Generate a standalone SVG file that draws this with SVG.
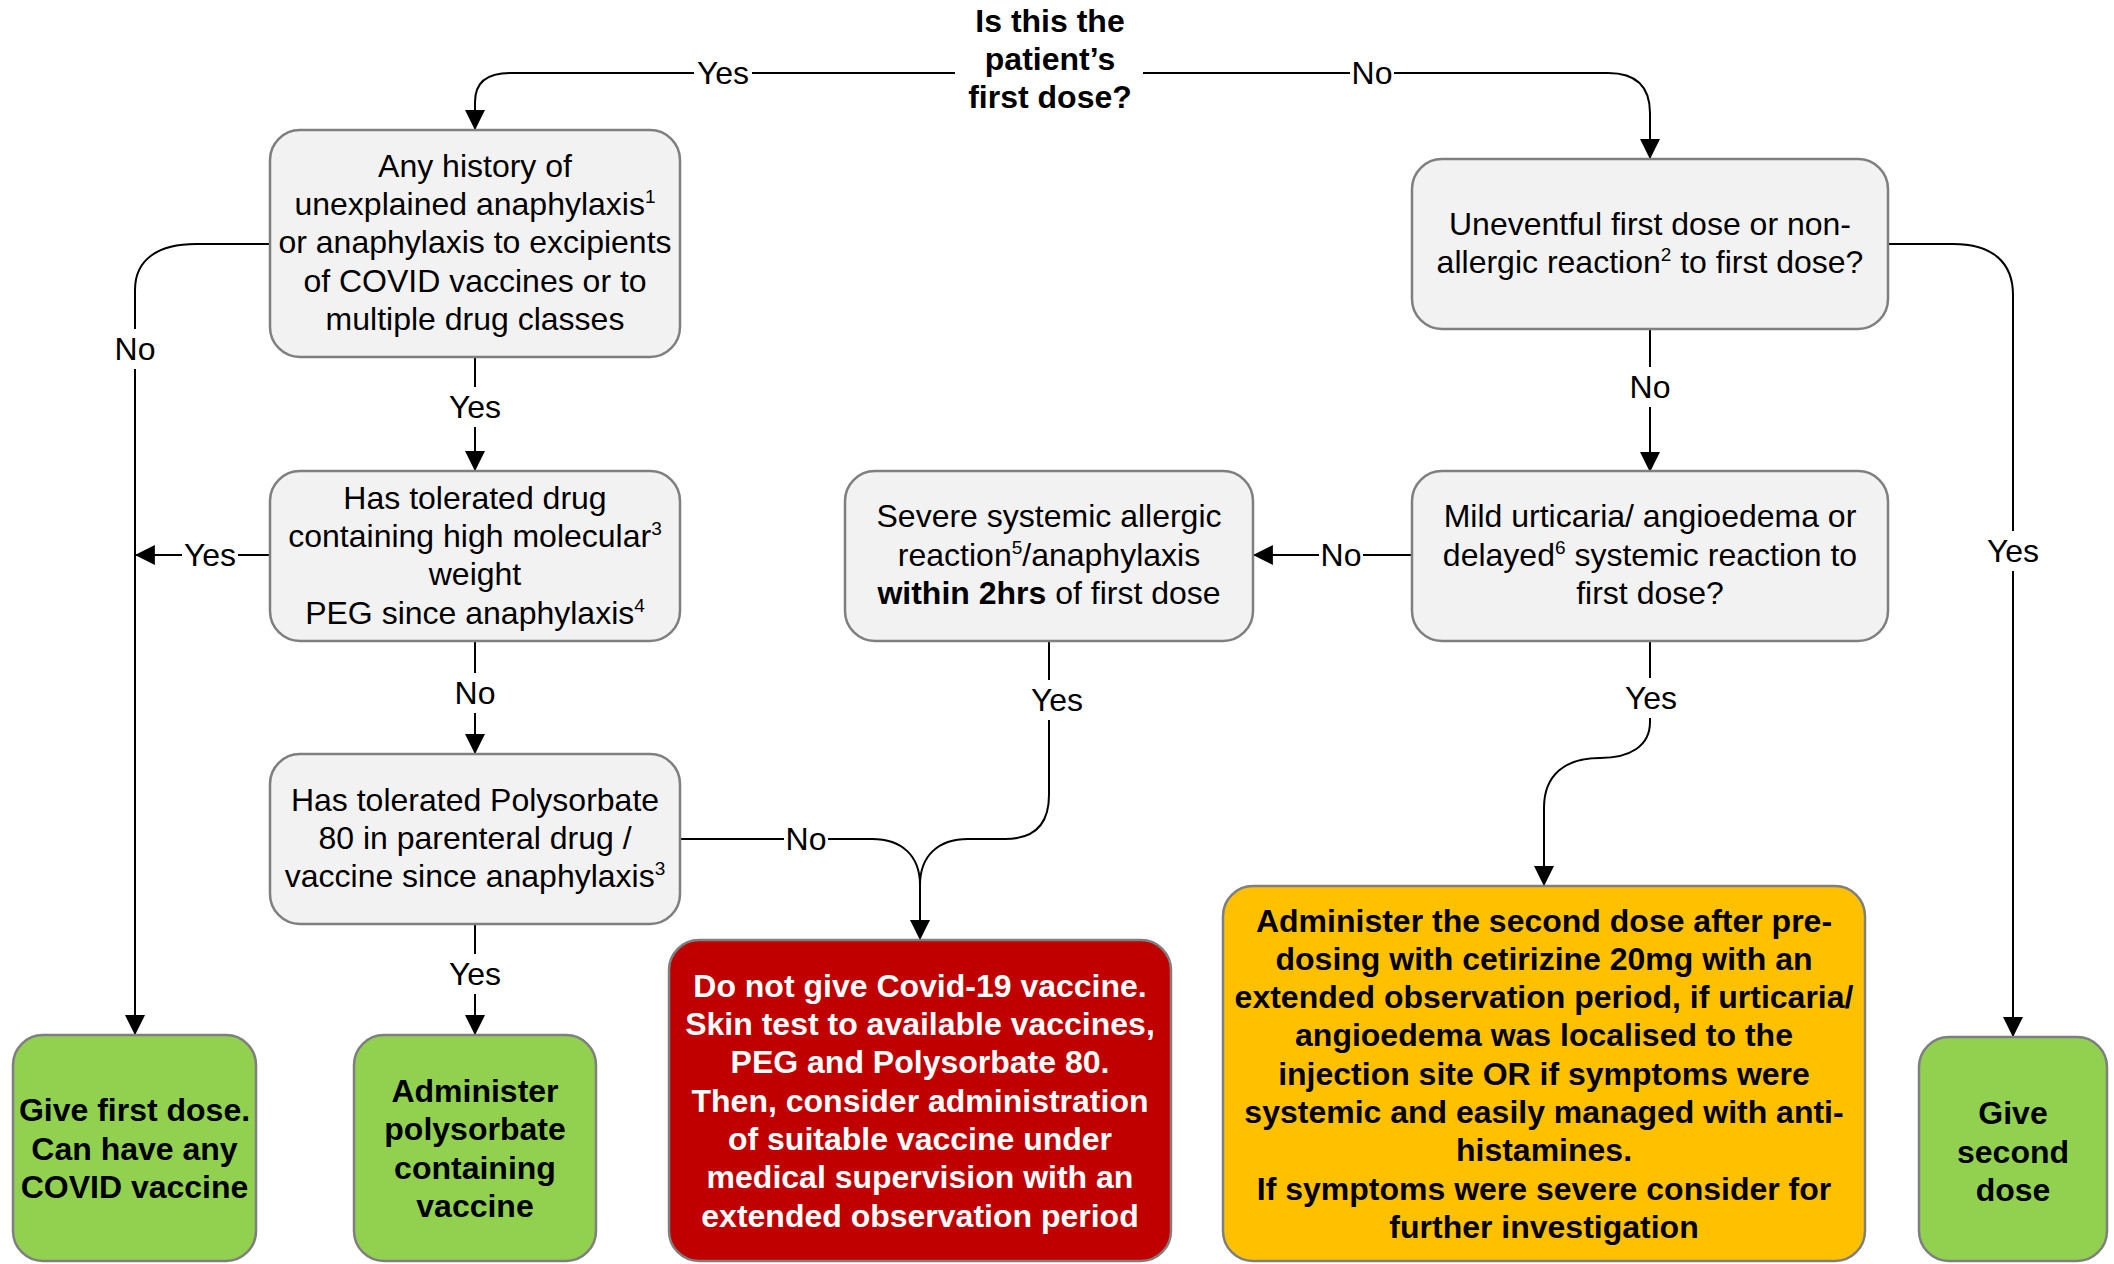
<svg xmlns="http://www.w3.org/2000/svg" width="2114" height="1264" viewBox="0 0 2114 1264">
<style>
text{font-family:"Liberation Sans",Arial,sans-serif;font-size:32px;fill:#000;text-anchor:middle}
.b{font-weight:bold}
.w{fill:#fff}
.sup{font-size:19px}
.q{fill:#f2f2f2;stroke:#7f7f7f;stroke-width:2.5}
.g{fill:#92d050;stroke:#7f7f7f;stroke-width:2.5}
.r{fill:#c00000;stroke:#7f7f7f;stroke-width:2.5}
.o{fill:#ffc000;stroke:#7f7f7f;stroke-width:2.5}
.ln{fill:none;stroke:#000;stroke-width:2}
.lb{fill:#fff;stroke:none}
</style>
<defs>
<marker id="arr" markerUnits="userSpaceOnUse" markerWidth="20" markerHeight="20" viewBox="0 0 18 18" refX="17" refY="9" orient="auto">
<path d="M0,0 L18,9 L0,18 z" fill="#000"/>
</marker>
</defs>
<rect width="2114" height="1264" fill="#fff"/>

<g id="connectors">
<path class="ln" d="M955,73 H510 C488,73 475,82 475,102 V129" marker-end="url(#arr)"/>
<path class="ln" d="M1143,73 H1608 C1634,73 1650,85 1650,113 V158" marker-end="url(#arr)"/>
<path class="ln" d="M270,244 H196 C160,244 135,258 135,290 V1034" marker-end="url(#arr)"/>
<path class="ln" d="M270,555 H136" marker-end="url(#arr)"/>
<path class="ln" d="M475,357 V470" marker-end="url(#arr)"/>
<path class="ln" d="M475,641 V753" marker-end="url(#arr)"/>
<path class="ln" d="M475,924 V1034" marker-end="url(#arr)"/>
<path class="ln" d="M679,839 H872 C902,839 920,856 920,885 V939" marker-end="url(#arr)"/>
<path class="ln" d="M1049,641 V795 C1049,826 1032,839 1005,839 H968 C938,839 920,856 920,885"/>
<path class="ln" d="M1412,555 H1254" marker-end="url(#arr)"/>
<path class="ln" d="M1650,329 V471" marker-end="url(#arr)"/>
<path class="ln" d="M1888,244 H1953 C1992,244 2013,262 2013,295 V1036" marker-end="url(#arr)"/>
<path class="ln" d="M1650,641 V722 C1650,746 1630,758 1600,758 C1566,758 1544,774 1544,808 V885" marker-end="url(#arr)"/>
<g id="labels">
<rect class="lb" x="694" y="56" width="58" height="34"/><text x="723" y="84">Yes</text>
<rect class="lb" x="1350" y="56" width="44" height="34"/><text x="1372" y="84">No</text>
<rect class="lb" x="113" y="329" width="44" height="40"/><text x="135" y="360">No</text>
<rect class="lb" x="182" y="538" width="56" height="34"/><text x="210" y="566">Yes</text>
<rect class="lb" x="446" y="387" width="58" height="40"/><text x="475" y="418">Yes</text>
<rect class="lb" x="453" y="673" width="44" height="40"/><text x="475" y="704">No</text>
<rect class="lb" x="446" y="954" width="58" height="40"/><text x="475" y="985">Yes</text>
<rect class="lb" x="784" y="822" width="44" height="34"/><text x="806" y="850">No</text>
<rect class="lb" x="1028" y="680" width="58" height="40"/><text x="1057" y="711">Yes</text>
<rect class="lb" x="1319" y="538" width="44" height="34"/><text x="1341" y="566">No</text>
<rect class="lb" x="1628" y="367" width="44" height="40"/><text x="1650" y="398">No</text>
<rect class="lb" x="1984" y="531" width="58" height="40"/><text x="2013" y="562">Yes</text>
<rect class="lb" x="1622" y="678" width="58" height="40"/><text x="1651" y="709">Yes</text>
</g>
</g>

<g id="q-first">
<text class="b" x="1050" y="32">Is this the</text>
<text class="b" x="1050" y="70">patient’s</text>
<text class="b" x="1050" y="108">first dose?</text>
</g>

<g id="n-history">
<rect class="q" x="270" y="130" width="410" height="227" rx="30"/>
<text x="475" y="177">Any history of</text>
<text x="475" y="215">unexplained anaphylaxis<tspan class="sup" dy="-12">1</tspan></text>
<text x="475" y="253">or anaphylaxis to excipients</text>
<text x="475" y="292">of COVID vaccines or to</text>
<text x="475" y="330">multiple drug classes</text>
</g>

<g id="n-peg">
<rect class="q" x="270" y="471" width="410" height="170" rx="30"/>
<text x="475" y="509">Has tolerated drug</text>
<text x="475" y="547">containing high molecular<tspan class="sup" dy="-12">3</tspan></text>
<text x="475" y="585">weight</text>
<text x="475" y="624">PEG since anaphylaxis<tspan class="sup" dy="-12">4</tspan></text>
</g>

<g id="n-poly">
<rect class="q" x="270" y="754" width="410" height="170" rx="30"/>
<text x="475" y="811">Has tolerated Polysorbate</text>
<text x="475" y="849">80 in parenteral drug /</text>
<text x="475" y="887">vaccine since anaphylaxis<tspan class="sup" dy="-12">3</tspan></text>
</g>

<g id="n-give-first">
<rect class="g" x="13" y="1035" width="243" height="226" rx="30"/>
<text class="b" x="134.5" y="1121">Give first dose.</text>
<text class="b" x="134.5" y="1160">Can have any</text>
<text class="b" x="134.5" y="1198">COVID vaccine</text>
</g>

<g id="n-administer-poly">
<rect class="g" x="354" y="1035" width="242" height="226" rx="30"/>
<text class="b" x="475" y="1102">Administer</text>
<text class="b" x="475" y="1140">polysorbate</text>
<text class="b" x="475" y="1179">containing</text>
<text class="b" x="475" y="1217">vaccine</text>
</g>

<g id="n-do-not-give">
<rect class="r" x="669" y="940" width="502" height="321" rx="30"/>
<text class="b w" x="920" y="997">Do not give Covid-19 vaccine.</text>
<text class="b w" x="920" y="1035">Skin test to available vaccines,</text>
<text class="b w" x="920" y="1073">PEG and Polysorbate 80.</text>
<text class="b w" x="920" y="1112">Then, consider administration</text>
<text class="b w" x="920" y="1150">of suitable vaccine under</text>
<text class="b w" x="920" y="1188">medical supervision with an</text>
<text class="b w" x="920" y="1227">extended observation period</text>
</g>

<g id="n-severe">
<rect class="q" x="845" y="471" width="408" height="170" rx="30"/>
<text x="1049" y="527">Severe systemic allergic</text>
<text x="1049" y="566">reaction<tspan class="sup" dy="-12">5</tspan><tspan dy="12">/anaphylaxis</tspan></text>
<text x="1049" y="604"><tspan class="b">within 2hrs</tspan> of first dose</text>
</g>

<g id="n-uneventful">
<rect class="q" x="1412" y="159" width="476" height="170" rx="30"/>
<text x="1650" y="235">Uneventful first dose or non-</text>
<text x="1650" y="273">allergic reaction<tspan class="sup" dy="-12">2</tspan><tspan dy="12"> to first dose?</tspan></text>
</g>

<g id="n-mild">
<rect class="q" x="1412" y="471" width="476" height="170" rx="30"/>
<text x="1650" y="527">Mild urticaria/ angioedema or</text>
<text x="1650" y="566">delayed<tspan class="sup" dy="-12">6</tspan><tspan dy="12"> systemic reaction to</tspan></text>
<text x="1650" y="604">first dose?</text>
</g>

<g id="n-predose">
<rect class="o" x="1223" y="886" width="642" height="375" rx="30"/>
<text class="b" x="1544" y="932">Administer the second dose after pre-</text>
<text class="b" x="1544" y="970">dosing with cetirizine 20mg with an</text>
<text class="b" x="1544" y="1008">extended observation period, if urticaria/</text>
<text class="b" x="1544" y="1046">angioedema was localised to the</text>
<text class="b" x="1544" y="1085">injection site OR if symptoms were</text>
<text class="b" x="1544" y="1123">systemic and easily managed with anti-</text>
<text class="b" x="1544" y="1161">histamines.</text>
<text class="b" x="1544" y="1200">If symptoms were severe consider for</text>
<text class="b" x="1544" y="1238">further investigation</text>
</g>

<g id="n-give-second">
<rect class="g" x="1919" y="1037" width="188" height="224" rx="30"/>
<text class="b" x="2013" y="1124">Give</text>
<text class="b" x="2013" y="1163">second</text>
<text class="b" x="2013" y="1201">dose</text>
</g>
</svg>
